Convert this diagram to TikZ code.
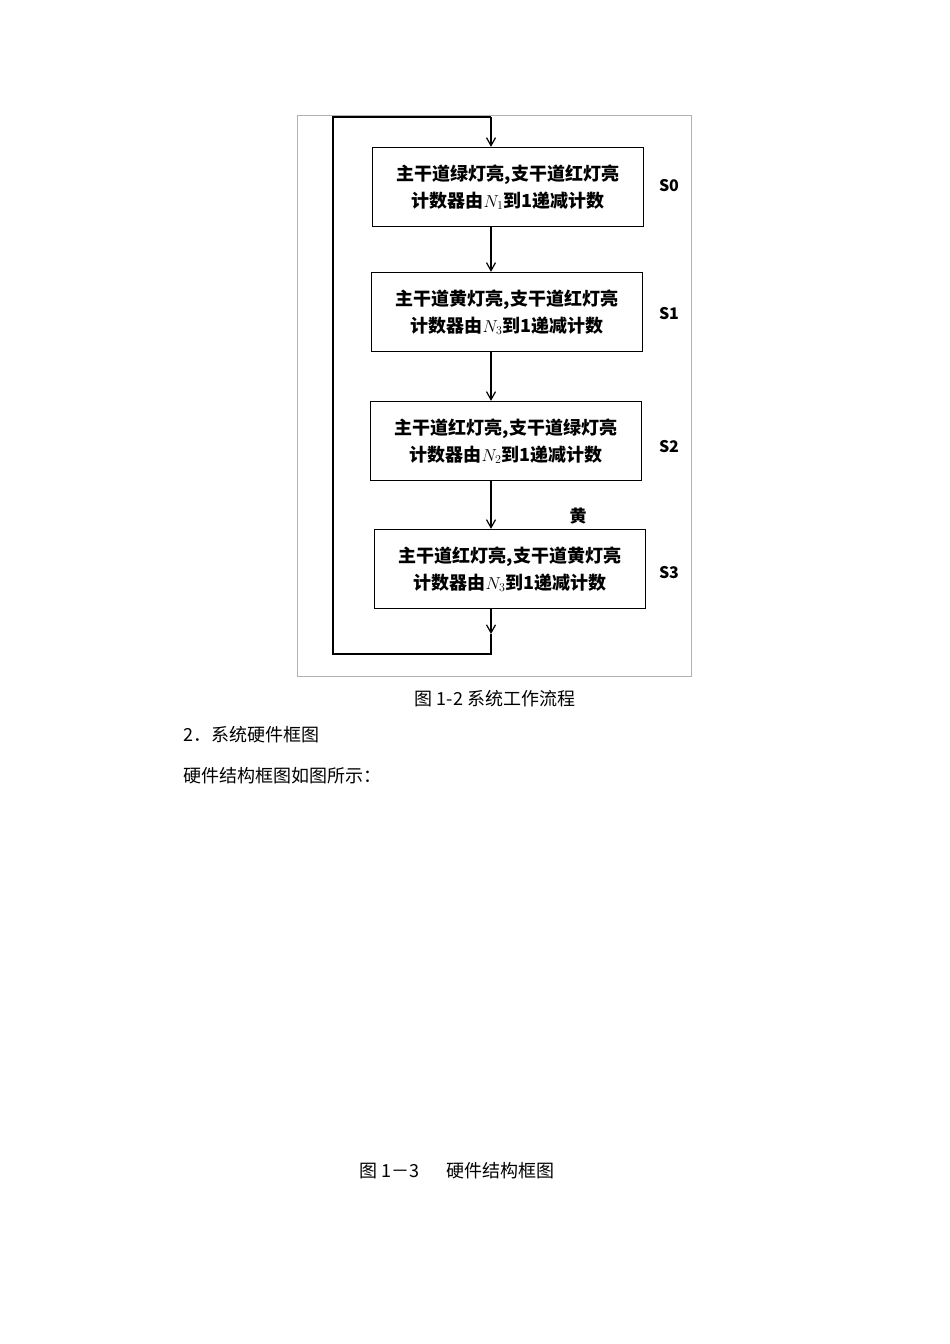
\documentclass[tikz,border=0pt]{standalone}
\usepackage{fontspec}
\setmainfont{Noto Sans CJK SC}
\usetikzlibrary{arrows.meta}
\begin{document}
\begin{tikzpicture}[x=1pt,y=-1pt,
  stbox/.style={draw,line width=1.3pt,minimum width=271pt,minimum height=79pt,align=center,font=\fontsize{18}{27}\selectfont\bfseries,inner sep=0pt},
  slab/.style={font=\fontsize{16}{18}\selectfont\bfseries},
  captxt/.style={font=\fontsize{18}{20}\selectfont,anchor=west},
  flow/.style={line width=1.2pt,-{Straight Barb[length=8pt,width=9pt]}}]
\useasboundingbox (0,0) rectangle (950,1344);
\fill[white] (0,0) rectangle (950,1344);
\draw[gray!60,line width=0.6pt] (297,115) rectangle (691,676);
\node[stbox] (s0) at (508,187) {主干道绿灯亮,支干道红灯亮\\计数器由$N_1$到1递减计数};
\node[stbox] (s1) at (507,312) {主干道黄灯亮,支干道红灯亮\\计数器由$N_3$到1递减计数};
\node[stbox] (s2) at (506,441) {主干道红灯亮,支干道绿灯亮\\计数器由$N_2$到1递减计数};
\node[stbox] (s3) at (510,569) {主干道红灯亮,支干道黄灯亮\\计数器由$N_3$到1递减计数};
\node[slab] (l0) at (669,186) {S0};
\node[slab] (l1) at (669,314) {S1};
\node[slab] (l2) at (669,447) {S2};
\node[slab] (l3) at (669,573) {S3};
\node[font=\fontsize{17}{18}\selectfont\bfseries] (y) at (578,516) {黄};
\coordinate (top) at (491,117);
\coordinate (mid) at (491,634);
\coordinate (bot) at (491,654);
\coordinate (bl) at (333,654);
\coordinate (tl) at (333,117);
\draw[flow] (s0.south -| top) -- (s1.north -| top);
\draw[flow] (s1.south -| top) -- (s2.north -| top);
\draw[flow] (s2.south -| top) -- (s3.north -| top);
\draw[flow] (s3.south -| top) -- (mid);
\draw[line width=1.2pt] (mid) -- (bot) -- (bl) -- (tl) -- (top);
\draw[flow] (top) -- (s0.north -| top);
\node[font=\fontsize{18}{20}\selectfont] (c1) at (495,699) {图 1-2 系统工作流程};
\node[captxt] (c2) at (180,735) {2．系统硬件框图};
\node[captxt] (c3) at (180,776) {硬件结构框图如图所示：};
\node[font=\fontsize{18}{20}\selectfont] (c4) at (457,1171) {图 1－3\quad\ \ 硬件结构框图};
\end{tikzpicture}
\end{document}
